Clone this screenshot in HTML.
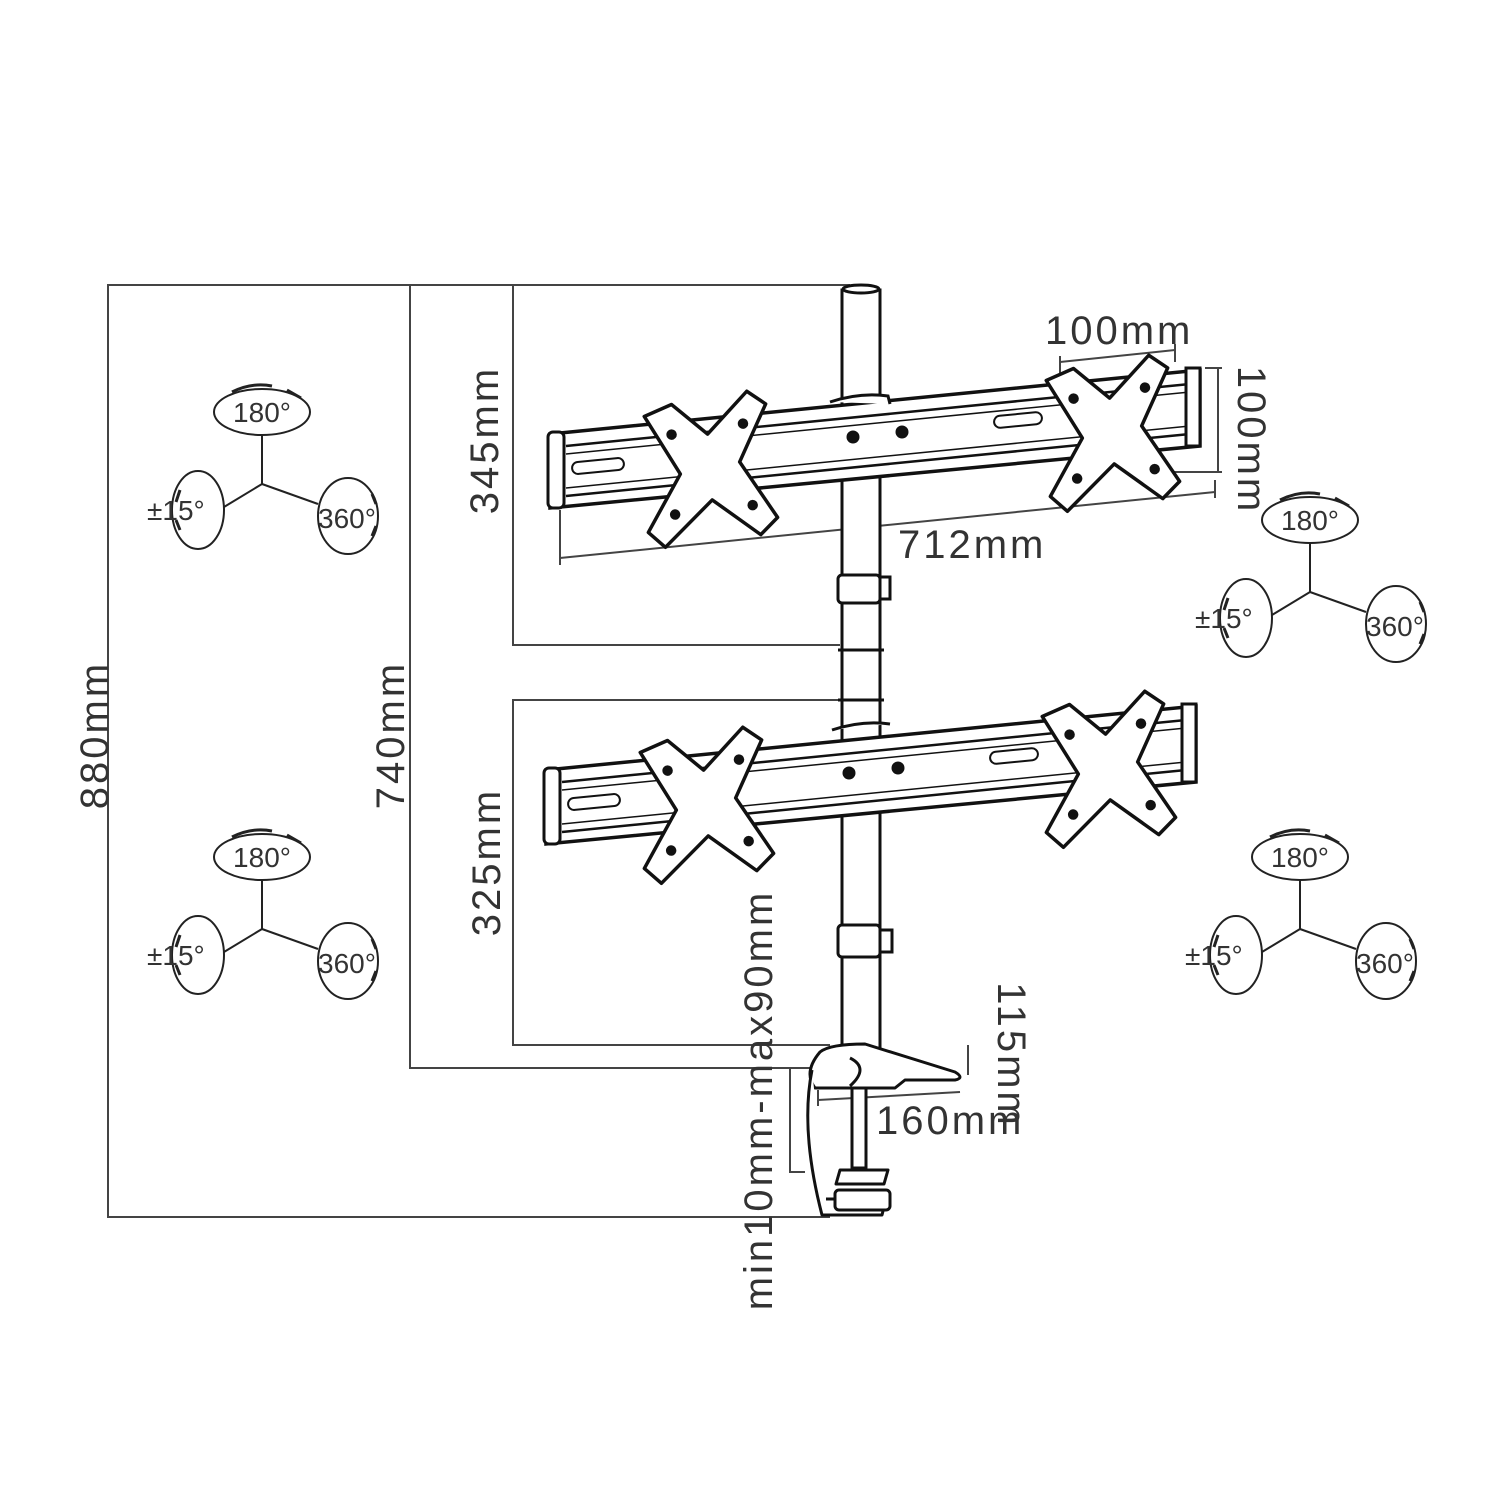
<!DOCTYPE html>
<html><head><meta charset="utf-8"><style>
html,body{margin:0;padding:0;background:#fff;}
svg{display:block;font-family:"Liberation Sans",sans-serif;}
</style></head><body>
<svg width="1500" height="1500" viewBox="0 0 1500 1500" xmlns="http://www.w3.org/2000/svg">
<defs>
<g id="icon" fill="none" stroke="#222" stroke-width="2">
  <ellipse cx="0" cy="0" rx="48" ry="23"/>
  <path d="M-30,-20 q20,-10 40,-6 M25,-22 l14,8" stroke-width="3"/>
  <line x1="0" y1="23" x2="0" y2="72"/>
  <line x1="0" y1="72" x2="-38" y2="95"/>
  <line x1="0" y1="72" x2="56" y2="92"/>
  <ellipse cx="-64" cy="98" rx="26" ry="39"/>
  <ellipse cx="86" cy="104" rx="30" ry="38"/>
  <path d="M-82,78 l-4,12 M-82,118 l-4,-10 M110,82 l4,10 M110,124 l4,-10" stroke-width="3"/>
  <text x="0" y="10" font-size="28" fill="#333" stroke="none" text-anchor="middle">180°</text>
  <text x="-115" y="108" font-size="28" fill="#333" stroke="none">±15°</text>
  <text x="56" y="116" font-size="28" fill="#333" stroke="none">360°</text>
</g>
<g id="plate" fill="#fff" stroke="#111" stroke-width="3.5" stroke-linejoin="round">
  <polygon points="-62,-56 -34,-66 0,-34 42,-74 60,-60 30,-4 64,54 46,70 0,32 -50,76 -66,60 -30,4"/>
  <circle cx="-36" cy="-36" r="3.5" fill="#111"/><circle cx="36" cy="-42" r="3.5" fill="#111"/>
  <circle cx="-38" cy="44" r="3.5" fill="#111"/><circle cx="40" cy="40" r="3.5" fill="#111"/>
</g>
<g id="bar" stroke="#111" fill="#fff">
  <polygon points="550,434 1200,370 1200,446 550,508" stroke-width="3.5"/>
  <line x1="566" y1="446" x2="1190" y2="384" stroke-width="2.5"/>
  <line x1="566" y1="496" x2="1190" y2="434" stroke-width="2.5"/>
  <line x1="566" y1="454" x2="1190" y2="392" stroke-width="1.5"/>
  <line x1="566" y1="488" x2="1190" y2="426" stroke-width="1.5"/>
  <rect x="548" y="432" width="16" height="76" rx="5" stroke-width="3"/>
  <rect x="1186" y="368" width="14" height="78" stroke-width="3"/>
  <rect x="572" y="460" width="52" height="12" rx="6" stroke-width="2" transform="rotate(-5.6 598 466)"/>
  <rect x="994" y="414" width="48" height="12" rx="6" stroke-width="2" transform="rotate(-5.6 1018 420)"/>
  <circle cx="853" cy="437" r="6" fill="#111"/><circle cx="902" cy="432" r="6" fill="#111"/>
  <use href="#plate" transform="translate(710,468) rotate(-4)"/>
  <use href="#plate" transform="translate(1112,432) rotate(-4)"/>
</g>
</defs>

<g stroke="#444" stroke-width="2" fill="none">
  <polyline points="850,285 108,285 108,1217 830,1217"/>
  <polyline points="410,285 410,1068 815,1068"/>
  <polyline points="840,645 513,645 513,285"/>
  <polyline points="840,700 513,700 513,1045 830,1045"/>
  <line x1="560" y1="558" x2="1215" y2="492"/>
  <line x1="560" y1="510" x2="560" y2="565"/>
  <line x1="1215" y1="480" x2="1215" y2="498"/>
  <line x1="1218" y1="368" x2="1218" y2="472"/>
  <line x1="1205" y1="368" x2="1222" y2="368"/>
  <line x1="1170" y1="472" x2="1222" y2="472"/>
  <line x1="1060" y1="362" x2="1175" y2="350"/>
  <line x1="1060" y1="356" x2="1060" y2="375"/>
  <line x1="1175" y1="344" x2="1175" y2="362"/>
  <line x1="968" y1="1045" x2="968" y2="1075"/>
  <line x1="818" y1="1100" x2="960" y2="1092"/>
  <line x1="818" y1="1090" x2="818" y2="1106"/>
  <polyline points="810,1068 790,1068 790,1172 805,1172"/>
</g>

<g stroke="#111" stroke-width="3" fill="#fff">
  <rect x="842" y="290" width="38" height="760"/>
  <ellipse cx="861" cy="289" rx="18" ry="4"/>
  <path d="M838,650 h46 M838,700 h46"/>
  <rect x="838" y="575" width="42" height="28" rx="4"/>
  <rect x="880" y="577" width="10" height="22"/>
  <rect x="838" y="925" width="42" height="32" rx="4"/>
  <rect x="880" y="930" width="12" height="22"/>
</g>

<use href="#bar"/>
<use href="#bar" transform="translate(-4,336)"/>
<g stroke="#111" stroke-width="3" fill="#fff">
  <path d="M830,402 q30,-10 58,-6 l2,8 M832,730 q30,-10 58,-6"/>
</g>

<g stroke="#111" stroke-width="3" fill="#fff" stroke-linejoin="round">
  <path d="M820,1052 q10,-8 45,-8 l90,28 q10,6 0,8 l-50,0 l-10,8 h-80 q-12,-16 5,-36z"/>
  <path d="M850,1058 q20,10 0,28" fill="none"/>
  <rect x="852" y="1088" width="14" height="80"/>
  <path d="M812,1070 q-12,60 10,145 h60 l4,-16 h-60"/>
  <path d="M840,1170 h48 l-4,14 h-48z"/>
  <rect x="835" y="1190" width="55" height="20" rx="4"/>
</g>

<use href="#icon" transform="translate(262,412)"/>
<use href="#icon" transform="translate(262,857)"/>
<use href="#icon" transform="translate(1310,520)"/>
<use href="#icon" transform="translate(1300,857)"/>

<g fill="#333" font-size="40" letter-spacing="3">
  <text x="1045" y="344">100mm</text>
  <text x="898" y="558">712mm</text>
  <text x="876" y="1134">160mm</text>
  <text transform="translate(498,440) rotate(-90)" text-anchor="middle">345mm</text>
  <text transform="translate(1238,440) rotate(90)" text-anchor="middle">100mm</text>
  <text transform="translate(108,735) rotate(-90)" text-anchor="middle">880mm</text>
  <text transform="translate(404,735) rotate(-90)" text-anchor="middle">740mm</text>
  <text transform="translate(500,862) rotate(-90)" text-anchor="middle">325mm</text>
  <text transform="translate(772,1100) rotate(-90)" text-anchor="middle">min10mm-max90mm</text>
  <text transform="translate(998,1055) rotate(90)" text-anchor="middle">115mm</text>
</g>
</svg>
</body></html>
